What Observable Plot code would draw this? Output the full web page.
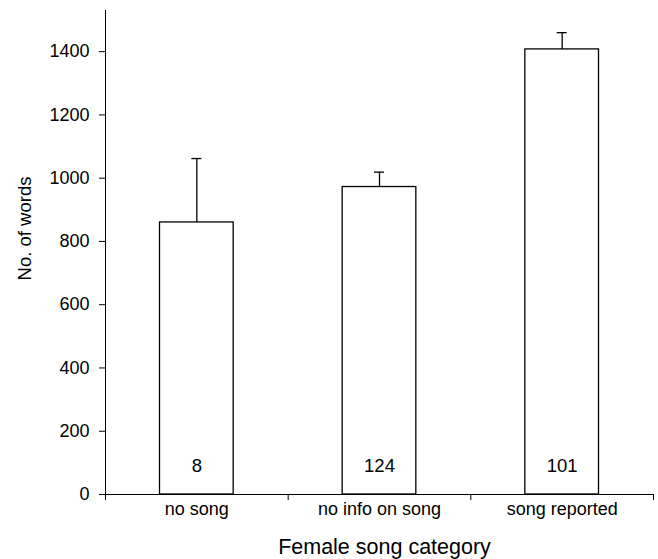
<!DOCTYPE html>
<html>
<head>
<meta charset="utf-8">
<script src="https://cdn.jsdelivr.net/npm/d3@7"></script>
<script src="https://cdn.jsdelivr.net/npm/@observablehq/plot@0.6"></script>
<style>
  html, body { margin: 0; padding: 0; background: #fff; }
</style>
</head>
<body>
<div id="chart"></div>
<script>
const categories = ["no song", "no info on song", "song reported"];
const means = [860, 972, 1407];
const upper = [1062, 1019, 1460];
const counts = ["8", "124", "101"];
const yTicks = [0, 200, 400, 600, 800, 1000, 1200, 1400];
const xTitle = "Female song category";
const yTitle = "No. of words";

const data = categories.map((c, i) => ({
  cat: c, i, x1: i, x2: i + 1, xc: i + 0.5,
  mean: means[i], up: upper[i], n: counts[i]
}));

const chart = Plot.plot({
  width: 658,
  height: 559,
  marginLeft: 105,
  marginRight: 5,
  marginTop: 10,
  marginBottom: 65,
  style: { fontFamily: "'Liberation Sans', Arial, sans-serif", fontSize: "18px", color: "#000", background: "#fff" },
  x: { domain: [0, 3], axis: null },
  y: { domain: [0, 1530], axis: null },
  marks: [
    Plot.axisY({ ticks: yTicks, tickSize: 6, tickPadding: 10, tickFormat: d3.format("d"), label: null, fontSize: 18 }),
    Plot.axisX({ ticks: [0, 1, 2, 3], tickSize: 6, tickFormat: () => "", label: null }),
    Plot.axisX({ ticks: [0.5, 1.5, 2.5], tickSize: 0, tickPadding: 8, tickFormat: d => categories[Math.floor(d)], label: null, fontSize: 18 }),
    Plot.ruleX([0], { y1: 0, y2: 1530, stroke: "#000" }),
    Plot.ruleY([0], { stroke: "#000" }),
    Plot.ruleX(data, { x: "xc", y1: "mean", y2: "up", stroke: "#000", strokeWidth: 1.3 }),
    Plot.ruleY(data, { y: "up", x1: "xc", x2: "xc", insetLeft: -5, insetRight: -5, stroke: "#000", strokeWidth: 1.3 }),
    Plot.rectY(data, { x1: "x1", x2: "x2", y1: 0, y2: "mean", insetLeft: 54.5, insetRight: 54.5, fill: "#fff", stroke: "#000", strokeWidth: 1.3 }),
    Plot.text(data, { x: "xc", y: 0, text: "n", dy: -23, lineAnchor: "bottom", fontSize: 18.5, fill: "#000" }),
    Plot.text([xTitle], { frameAnchor: "bottom", dx: 5, dy: 59, lineAnchor: "bottom", fontSize: 21.5, fill: "#000" }),
    Plot.text([yTitle], { frameAnchor: "left", dx: -80, dy: -24, rotate: -90, lineAnchor: "middle", textAnchor: "middle", fontSize: 18.5, fill: "#000" })
  ]
});
document.getElementById("chart").appendChild(chart);
</script>
</body>
</html>
